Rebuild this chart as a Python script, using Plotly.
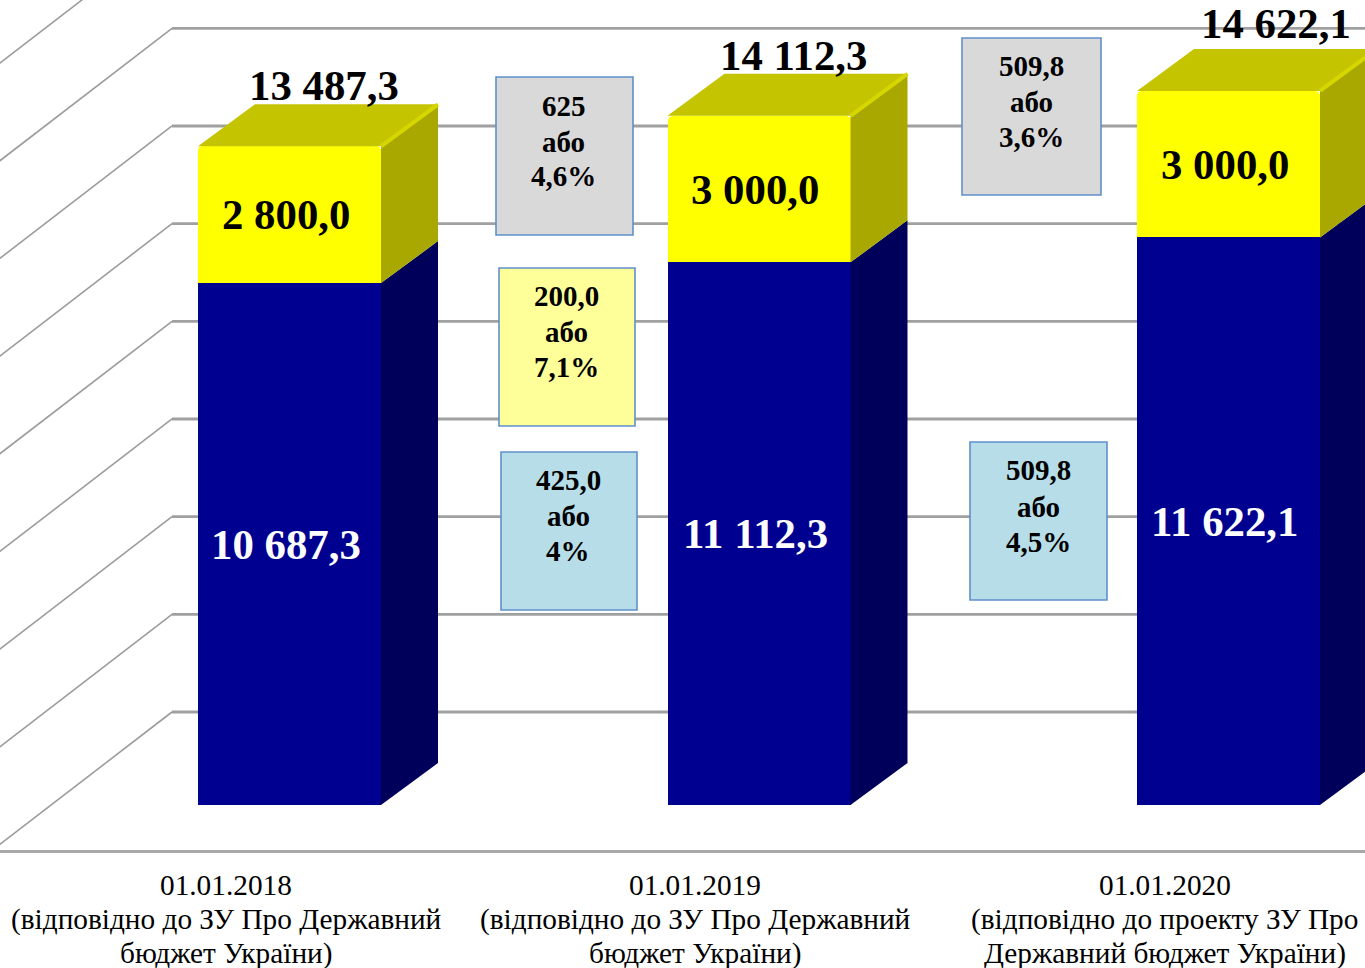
import plotly.graph_objects as go

# ---------- data ----------
positions = [0, 1, 2]
blue_values = [10687.3, 11112.3, 11622.1]
yellow_values = [2800.0, 3000.0, 3000.0]
totals = [13487.3, 14112.3, 14622.1]
blue_labels = ["10 687,3", "11 112,3", "11 622,1"]
yellow_labels = ["2 800,0", "3 000,0", "3 000,0"]
total_labels = ["13 487,3", "14 112,3", "14 622,1"]
category_lines = [
    ["01.01.2018", "(відповідно до ЗУ Про Державний", "бюджет України)"],
    ["01.01.2019", "(відповідно до ЗУ Про Державний", "бюджет України)"],
    ["01.01.2020", "(відповідно до проекту ЗУ Про", "Державний бюджет України)"],
]
grid_values = [0, 2000, 4000, 6000, 8000, 10000, 12000, 14000, 16000]
note_lines = [
    ["625", "або", "4,6%"],
    ["200,0", "або", "7,1%"],
    ["425,0", "або", "4%"],
    ["509,8", "або", "3,6%"],
    ["509,8", "або", "4,5%"],
]

# ---------- layout constants (pixels of the page) ----------
W, H, PLOT_H = 1365, 968, 852
BAR0_PX, BAR_STEP_PX, BAR_W_PX = 289.5, 469.5, 183.0
BASE_PX = 805.0
PX_PER_UNIT = 97.67 / 2000
FONT = "Liberation Serif"

x_per_px = 1 / BAR_STEP_PX
y_per_px = 1 / PX_PER_UNIT
x_range = [-BAR0_PX * x_per_px, (W - BAR0_PX) * x_per_px]
y_range = [(BASE_PX - PLOT_H) * y_per_px, BASE_PX * y_per_px]
bar_width = BAR_W_PX * x_per_px

depth_dx, depth_dy = 57 * x_per_px, 42 * y_per_px      # bar depth
wall_dy = 93 * y_per_px


def px_x(p):
    return p / W


def px_y(p):
    return 1 - p / PLOT_H


fig = go.Figure()

# ---------- back wall and floor ----------
shapes = []
back_x = (172 - BAR0_PX) * x_per_px
front_x = (172 - 182 - BAR0_PX) * x_per_px
for v in grid_values:
    back_y = v + wall_dy
    front_y = back_y - 140 * y_per_px
    shapes.append(dict(type="line", layer="below", xref="x", yref="y", x0=back_x, x1=x_range[1],
                       y0=back_y, y1=back_y, line=dict(color="#a0a0a0", width=2.8)))
    shapes.append(dict(type="line", layer="below", xref="x", yref="y", x0=back_x, x1=front_x,
                       y0=back_y, y1=front_y, line=dict(color="#9c9c9c", width=1.6)))
shapes.append(dict(type="line", layer="below", xref="paper", yref="paper", x0=0, x1=1,
                   y0=px_y(851.5), y1=px_y(851.5), line=dict(color="#a8a8a8", width=3)))

# ---------- bars ----------
fig.add_trace(go.Bar(x=positions, y=blue_values, width=bar_width,
                     marker=dict(color="#000090", line=dict(width=0)), showlegend=False))
fig.add_trace(go.Bar(x=positions, y=yellow_values, width=bar_width,
                     marker=dict(color="#ffff00", line=dict(width=0)), showlegend=False))


def face(xs, ys, color):
    fig.add_trace(go.Scatter(x=xs, y=ys, mode="lines", fill="toself", fillcolor=color,
                             line=dict(width=0, color=color), showlegend=False, hoverinfo="skip"))


for i, p in enumerate(positions):
    r = p + bar_width / 2
    l = p - bar_width / 2
    b, t = blue_values[i], totals[i]
    face([r, r + depth_dx, r + depth_dx, r, r], [0, depth_dy, b + depth_dy, b, 0], "#00005a")
    face([r, r + depth_dx, r + depth_dx, r, r], [b, b + depth_dy, t + depth_dy, t, b], "#a8a800")
    face([l, l + depth_dx, r + depth_dx, r, l], [t, t + depth_dy, t + depth_dy, t, t], "#c4c400")
    fig.add_trace(go.Scatter(x=[r, r + depth_dx], y=[t, t + depth_dy], mode="lines",
                             line=dict(color="#d6d600", width=4), showlegend=False, hoverinfo="skip"))

# ---------- value labels ----------
ann = []


def text(x, y, s, size, color="#000000", bold=True, xref="x", yref="y"):
    ann.append(dict(x=x, y=y, xref=xref, yref=yref, text=f"<b>{s}</b>" if bold else s, showarrow=False,
                    xanchor="center", yanchor="middle",
                    font=dict(family=FONT, size=size, color=color)))


label_dx = -4 * x_per_px
total_dx = [34 * x_per_px, 34 * x_per_px, 47.5 * x_per_px]
total_gap = [61, 60, 67]
for i, p in enumerate(positions):
    b, y_val, t = blue_values[i], yellow_values[i], totals[i]
    text(p + label_dx, b / 2, blue_labels[i], 42.8, "#ffffff")
    text(p + label_dx, b + y_val / 2, yellow_labels[i], 42.8)
    text(p + total_dx[i], t + total_gap[i] * y_per_px, total_labels[i], 42.8)

# ---------- note boxes ----------
boxes = [
    (496, 633, 77, 235, "#d9d9d9", [106, 142, 176.5], 563.5),
    (499, 635, 268, 426, "#ffff99", [296, 332, 367], 566.5),
    (501, 637, 452, 610, "#b7dde8", [480, 516, 551], 568),
    (962, 1101, 38, 195, "#d9d9d9", [66, 102, 137], 1031),
    (970, 1107, 442, 600, "#b7dde8", [470, 507, 541.5], 1038),
]
for (x0, x1, y0, y1, fill, ys, cx), lines in zip(boxes, note_lines):
    shapes.append(dict(type="rect", xref="paper", yref="paper", x0=px_x(x0), x1=px_x(x1), y0=px_y(y0), y1=px_y(y1),
                       fillcolor=fill, line=dict(color="#5f90cb", width=1.6), layer="above"))
    for yy, s in zip(ys, lines):
        text(px_x(cx), px_y(yy), s, 29, xref="paper", yref="paper")

# ---------- category labels ----------
cat_cx = [226, 695, 1164.5]
cat_y = [885, 919, 953]
for cx, lines in zip(cat_cx, category_lines):
    for yy, s in zip(cat_y, lines):
        text(px_x(cx), px_y(yy), s, 29.3, bold=False, xref="paper", yref="paper")

fig.update_layout(
    width=W, height=H, barmode="stack", barcornerradius=5, bargap=0,
    margin=dict(l=0, r=0, t=0, b=H - PLOT_H, pad=0),
    paper_bgcolor="#ffffff", plot_bgcolor="#ffffff",
    xaxis=dict(range=x_range, visible=False, fixedrange=True),
    yaxis=dict(range=y_range, visible=False, fixedrange=True),
    shapes=shapes, annotations=ann, showlegend=False,
)
fig.write_html("out.html", config=dict(displayModeBar=False),
               post_script="document.body.style.margin='0';document.body.style.overflow='hidden';")
